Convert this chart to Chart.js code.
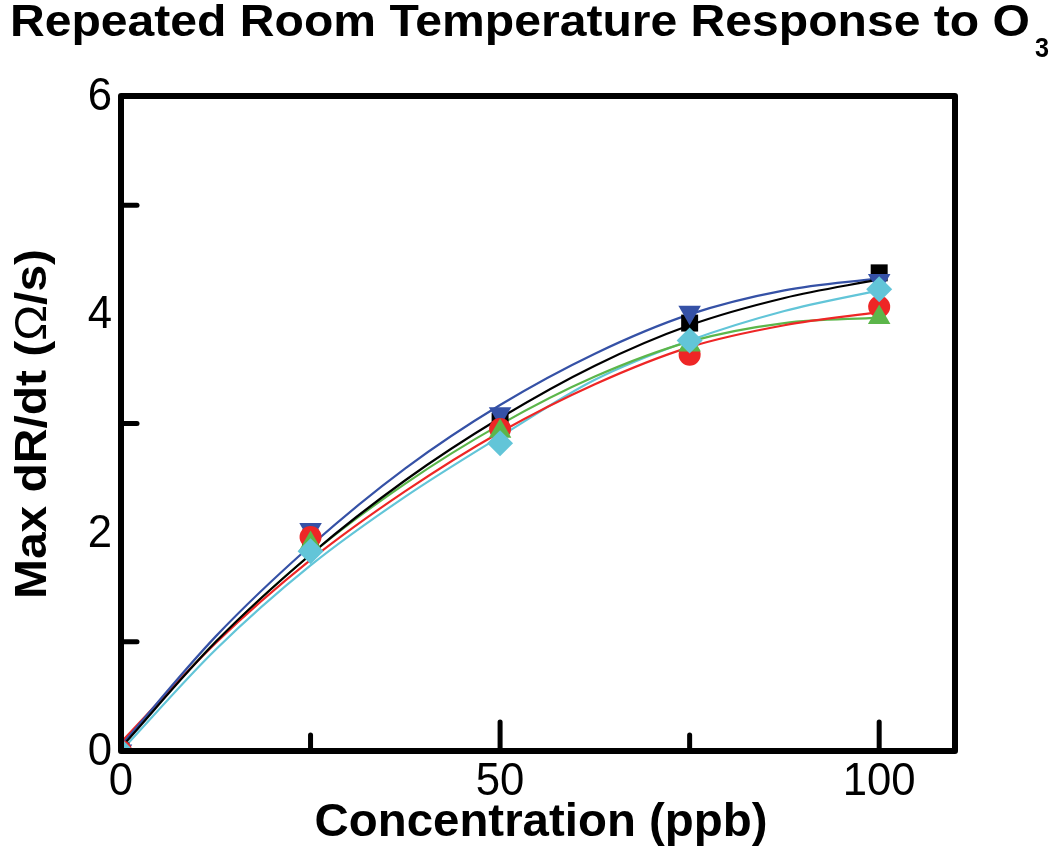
<!DOCTYPE html>
<html>
<head>
<meta charset="utf-8">
<script src="https://cdn.jsdelivr.net/npm/chart.js@4.4.1/dist/chart.umd.min.js"></script>
<style>
  html, body { margin: 0; padding: 0; background: #fff; }
  #wrap { width: 1050px; height: 848px; position: relative; }
</style>
</head>
<body>
<div id="wrap"><canvas id="chart"></canvas></div>
<script>
// --- data ---
const conc = [0, 25, 50, 75, 100];            // ppb
const run1 = [0.0, 1.95, 3.02, 3.92, 4.38];   // black squares
const run2 = [0.0, 2.03, 3.09, 4.02, 4.31];   // blue down triangles
const run3 = [0.0, 1.96, 2.95, 3.63, 4.07];   // red circles
const run4 = [0.0, 1.90, 2.93, 3.72, 3.97];   // green triangles
const run5 = [0.0, 1.83, 2.82, 3.76, 4.23];   // cyan diamonds

// fit curves
const fitX = [0, 12.5, 25, 37.5, 50, 62.5, 75, 87.5, 100];
const fit1 = [0.03, 1.00, 1.80, 2.48, 3.05, 3.53, 3.90, 4.15, 4.32];
const fit2 = [0.05, 1.05, 1.88, 2.59, 3.17, 3.64, 4.00, 4.22, 4.33];
const fit3 = [0.08, 0.99, 1.75, 2.38, 2.92, 3.36, 3.70, 3.90, 4.02];
const fit4 = [0.05, 1.00, 1.80, 2.45, 2.99, 3.43, 3.75, 3.92, 3.97];
const fit5 = [0.00, 0.93, 1.70, 2.33, 2.88, 3.40, 3.76, 4.03, 4.22];

const xTickLabels = [0, 50, 100];
const yTickLabels = [0, 2, 4, 6];
const xMinorTicks = [25, 75];
const xMajorTicks = [50, 100];
const yMinorTicks = [1, 3, 5];

const colors = ['#000000', '#3551a6', '#ee2626', '#5cb64a', '#62c5d8'];
const FONT = '"Liberation Sans", Arial, sans-serif';

const toXY = (xs, ys) => xs.map((x, i) => ({ x: x, y: ys[i] }));

function fitSet(ys, color) {
  return {
    type: 'line', data: toXY(fitX, ys), borderColor: color, borderWidth: 2.2,
    pointRadius: 0, cubicInterpolationMode: 'monotone', fill: false, order: 2
  };
}
function pointSet(ys, color, style, radius, rotation, order) {
  return {
    type: 'line', data: toXY(conc, ys), showLine: false, pointStyle: style,
    pointRadius: radius, rotation: rotation || 0, backgroundColor: color,
    borderColor: color, borderWidth: 0, order: order
  };
}

// narrow text: draw with a horizontal squeeze
function squeezed(ctx, str, x, y, font, sx, align) {
  ctx.save();
  ctx.font = font;
  ctx.textAlign = align || 'left';
  ctx.translate(x, y);
  ctx.scale(sx, 1);
  ctx.fillText(str, 0, 0);
  ctx.restore();
}

// --- custom decorations: frame, ticks, labels, titles ---
const decor = {
  id: 'decor',
  afterDraw(chart) {
    const ctx = chart.ctx;
    const a = chart.chartArea;
    const xs = chart.scales.x, ys = chart.scales.y;
    ctx.save();

    // frame
    ctx.strokeStyle = '#000';
    ctx.lineWidth = 6;
    ctx.lineJoin = 'round';
    ctx.lineCap = 'round';
    ctx.strokeRect(a.left, a.top, a.right - a.left, a.bottom - a.top);

    // ticks pointing inward
    ctx.lineWidth = 5;
    xMinorTicks.forEach(v => {
      const px = xs.getPixelForValue(v);
      ctx.beginPath(); ctx.moveTo(px, a.bottom); ctx.lineTo(px, a.bottom - 16); ctx.stroke();
    });
    xMajorTicks.forEach(v => {
      const px = xs.getPixelForValue(v);
      ctx.beginPath(); ctx.moveTo(px, a.bottom); ctx.lineTo(px, a.bottom - 29); ctx.stroke();
    });
    yMinorTicks.forEach(v => {
      const py = ys.getPixelForValue(v);
      ctx.beginPath(); ctx.moveTo(a.left, py); ctx.lineTo(a.left + 16, py); ctx.stroke();
    });

    // tick labels
    ctx.fillStyle = '#000';
    ctx.textBaseline = 'middle';
    xTickLabels.forEach(v => {
      squeezed(ctx, String(v), xs.getPixelForValue(v), a.bottom + 31, '47px ' + FONT, 0.93, 'center');
    });
    yTickLabels.forEach(v => {
      squeezed(ctx, String(v), a.left - 9, ys.getPixelForValue(v) + 1, '47px ' + FONT, 0.93, 'right');
    });

    // x axis title
    ctx.textBaseline = 'alphabetic';
    ctx.font = 'bold 46px ' + FONT;
    const xt = 'Concentration (ppb)';
    squeezed(ctx, xt, 541, 836, ctx.font, 453 / ctx.measureText(xt).width, 'center');

    // y axis title (rotated, mixed weight)
    ctx.save();
    ctx.translate(46, 424);
    ctx.rotate(-Math.PI / 2);
    const parts = [
      ['Max dR/dt (', 'bold 45px ' + FONT],
      ['\u03A9', '45px ' + FONT],
      ['/s)', 'bold 45px ' + FONT]
    ];
    let total = 0;
    parts.forEach(p => { ctx.font = p[1]; total += ctx.measureText(p[0]).width; });
    const sy = 350 / total;
    ctx.scale(sy, 1);
    let cx = -total / 2;
    ctx.textAlign = 'left';
    parts.forEach(p => {
      ctx.font = p[1];
      ctx.fillText(p[0], cx, 0);
      cx += ctx.measureText(p[0]).width;
    });
    ctx.restore();

    // chart title with subscript
    const main = 'Repeated Room Temperature Response to O';
    ctx.font = 'bold 44px ' + FONT;
    squeezed(ctx, main, 10, 36, ctx.font, 1020 / ctx.measureText(main).width, 'left');
    squeezed(ctx, '3', 1035, 57, 'bold 28px ' + FONT, 0.9, 'left');

    ctx.restore();
  }
};

new Chart(document.getElementById('chart'), {
  type: 'line',
  data: {
    datasets: [
      fitSet(fit1, colors[0]),
      fitSet(fit2, colors[1]),
      fitSet(fit3, colors[2]),
      fitSet(fit4, colors[3]),
      fitSet(fit5, colors[4]),
      pointSet(run5, colors[4], 'rectRot', 13, 0, 0),
      pointSet(run4, colors[3], 'triangle', 13, 0, 0),
      pointSet(run3, colors[2], 'circle', 11, 0, 1),
      pointSet(run2, colors[1], 'triangle', 13, 180, 1),
      pointSet(run1, colors[0], 'rect', 12, 0, 1)
    ]
  },
  options: {
    responsive: true,
    maintainAspectRatio: false,
    animation: false,
    layout: { padding: { left: 121, right: 95, top: 96, bottom: 97 } },
    plugins: {
      legend: { display: false },
      tooltip: { enabled: false },
      title: { display: false }
    },
    scales: {
      x: { type: 'linear', display: false, min: 0, max: 110 },
      y: { type: 'linear', display: false, min: 0, max: 6 }
    }
  },
  plugins: [decor]
});
</script>
</body>
</html>
